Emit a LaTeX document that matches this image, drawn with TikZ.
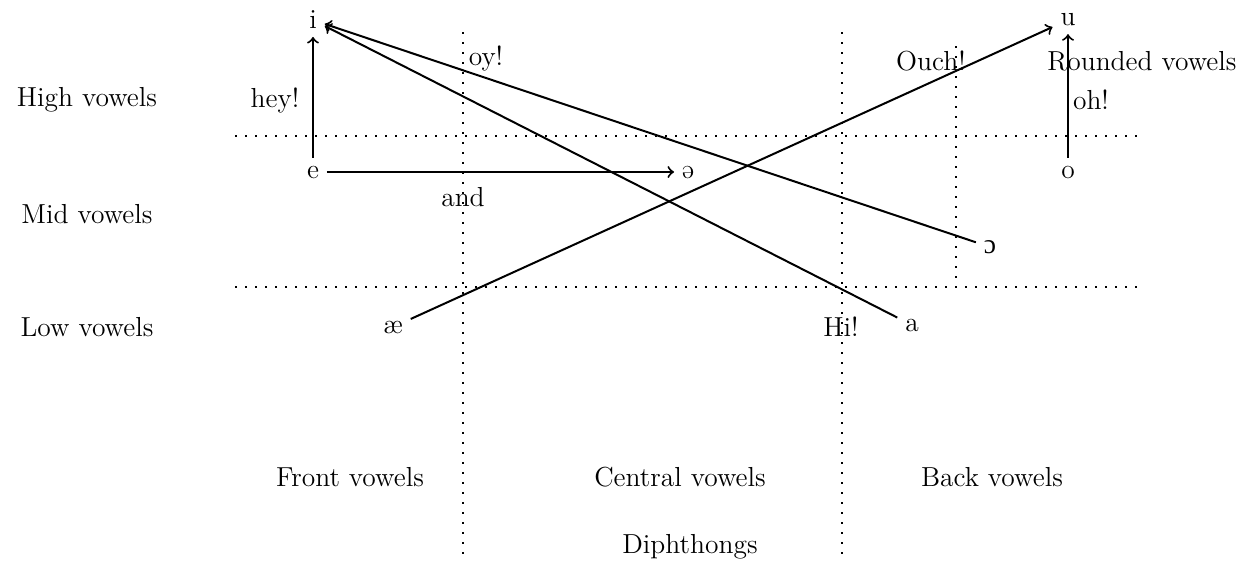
\documentclass[tikz,border=0pt]{standalone}
\usepackage{fontspec}
\newfontfamily\ipafont{Liberation Serif}
\usetikzlibrary{arrows}
\begin{document}
\begin{tikzpicture}[x=0.4pt,y=-0.4pt,
  lbl/.style={font=\fontsize{11}{13}\selectfont, inner sep=2pt},
  vow/.style={font=\fontsize{11}{13}\selectfont, inner sep=3pt},
  conn/.style={->, line width=0.8pt},
  grid/.style={line width=0.7pt, dash pattern=on 0.7pt off 3.3pt}]
\useasboundingbox (0,0) rectangle (1247,575);
% vowels
\node[vow] (i) at (313,20) {i};
\node[vow] (e) at (313,172) {e};
\node[vow] (schwa) at (688,172) {ə};
\node[vow] (u) at (1068,20) {u};
\node[vow] (o) at (1068,172) {o};
\node[vow] (oo) at (990,247) {\ipafont ɔ};
\node[vow] (ae) at (393,327) {æ};
\node[vow] (a) at (912,325) {a};
% dotted grid
\coordinate (h1l) at (235,136); \coordinate (h1r) at (1140,136);
\coordinate (h2l) at (235,287); \coordinate (h2r) at (1140,287);
\coordinate (v1t) at (463,32); \coordinate (v1b) at (463,555);
\coordinate (v2t) at (842,32); \coordinate (v2b) at (842,555);
\coordinate (v3t) at (956,46); \coordinate (v3b) at (956,285);
\draw[grid] (h1l) -- (h1r);
\draw[grid] (h2l) -- (h2r);
\draw[grid] (v1t) -- (v1b);
\draw[grid] (v2t) -- (v2b);
\draw[grid] (v3t) -- (v3b);
% labels
\node[lbl] (high) at (87,100) {High vowels};
\node[lbl] (mid) at (87,214) {Mid vowels};
\node[lbl] (low) at (87,327) {Low vowels};
\node[lbl] (front) at (350,477) {Front vowels};
\node[lbl] (central) at (680,477) {Central vowels};
\node[lbl] (back) at (992,477) {Back vowels};
\node[lbl] (diph) at (690,547) {Diphthongs};
\node[lbl] (round) at (1142,61) {Rounded vowels};
\node[lbl] (ouch) at (931,61) {Ouch!};
\node[lbl] (oy) at (486,58) {oy!};
\node[lbl] (hey) at (275,100) {hey!};
\node[lbl] (oh) at (1091,100) {oh!};
\node[lbl] (and) at (463,197) {and};
\node[lbl] (hi) at (841,327) {Hi!};
% connectors
\draw[conn] (e) -- (i);
\draw[conn] (e) -- (schwa);
\draw[conn] (oo) -- (i);
\draw[conn] (a) -- (i);
\draw[conn] (ae) -- (u);
\draw[conn] (o) -- (u);
\end{tikzpicture}
\end{document}
